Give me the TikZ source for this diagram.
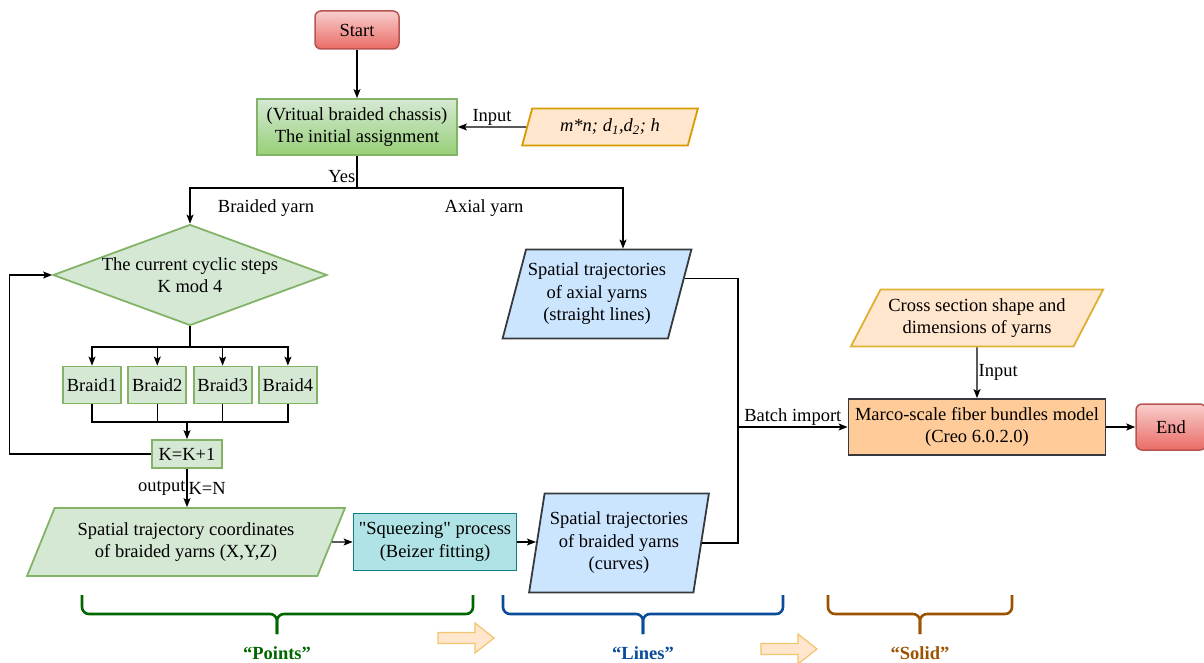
\documentclass[tikz,border=0pt]{standalone}
\usepackage{fontspec}
\setmainfont{Liberation Serif}[Ligatures=TeXOff]
\usetikzlibrary{shapes.geometric,arrows.meta,positioning,calc}
\definecolor{StartPink}{HTML}{F8CECC}
\definecolor{StartRed}{HTML}{EA6B66}
\definecolor{StartLine}{HTML}{B85450}
\definecolor{LeafGreen}{HTML}{D5E8D4}
\definecolor{LeafDeep}{HTML}{97D077}
\definecolor{LeafLine}{HTML}{82B366}
\definecolor{PeachFill}{HTML}{FFE6CC}
\definecolor{PeachLine}{HTML}{D79B00}
\definecolor{TealFill}{HTML}{B0E3E6}
\definecolor{TealLine}{HTML}{0E8088}
\definecolor{SkyFill}{HTML}{CCE5FF}
\definecolor{SlateLine}{HTML}{36393D}
\definecolor{ApricotFill}{HTML}{FFCC99}
\definecolor{PointsGreen}{HTML}{006600}
\definecolor{LinesBlue}{HTML}{0A4C9A}
\definecolor{SolidBrown}{HTML}{9C5300}
\definecolor{ArrowEdge}{HTML}{F2C46D}

\begin{document}
\begin{tikzpicture}[x=1pt,y=-1pt,node distance=5.5pt,
  font=\fontsize{18.5}{22.5}\selectfont,
  every node/.style={align=center},
  terminal/.style={draw=StartLine,top color=StartPink,bottom color=StartRed,rounded corners=6pt,line width=1.5pt,minimum width=84pt,minimum height=38pt},
  greenbox/.style={draw=LeafLine,fill=LeafGreen,line width=1.8pt,inner sep=2pt},
  iobox/.style={trapezium,trapezium stretches=true,inner xsep=0pt,inner ysep=-4pt,line width=1.8pt},
  flow/.style={-{Stealth[length=9pt,width=7pt,inset=2pt]},line width=1.2pt},
  wire/.style={line width=1.2pt},
  groupbrace/.style={line width=2.6pt,rounded corners=7pt},
  hint/.style={inner sep=1pt}]
  \useasboundingbox (0,0) rectangle (1204,663);

  % boxes
  \node[terminal] (start) at (357,30) {Start};
  \node[greenbox,top color=LeafGreen,bottom color=LeafDeep,minimum width=200pt,minimum height=56pt] (init) at (357,127) {(Vritual braided chassis)\\The initial assignment};
  \node[iobox,draw=PeachLine,fill=PeachFill,trapezium left angle=50,trapezium right angle=130,minimum width=176pt,minimum height=37pt] (dims) at (610,127) {\textit{m*n; d\textsubscript{1},d\textsubscript{2}; h}};
  \node[diamond,aspect=2.7,draw=LeafLine,fill=LeafGreen,line width=1.8pt,inner sep=-5pt,minimum width=274pt,minimum height=101pt] (cycle) at (190,275) {The current cyclic steps\\K mod 4};
  \node[greenbox,minimum width=58pt,minimum height=37pt] (braid1) at (92,385) {Braid1};
  \node[greenbox,minimum width=58pt,minimum height=37pt,right=of braid1] (braid2) {Braid2};
  \node[greenbox,minimum width=58pt,minimum height=37pt,right=of braid2] (braid3) {Braid3};
  \node[greenbox,minimum width=58pt,minimum height=37pt,right=of braid3] (braid4) {Braid4};
  \node[greenbox,minimum width=70pt,minimum height=28pt] (kstep) at (187,454) {K=K+1};
  \node[iobox,draw=LeafLine,fill=LeafGreen,trapezium left angle=54,trapezium right angle=126,minimum width=319pt,minimum height=68pt] (coords) at (186,542) {Spatial trajectory coordinates\\of braided yarns (X,Y,Z)};
  \node[draw=TealLine,fill=TealFill,line width=1.8pt,minimum width=163pt,minimum height=57pt] (squeeze) at (435,542) {"Squeezing" process\\(Beizer fitting)};
  \node[iobox,draw=SlateLine,fill=SkyFill,trapezium left angle=67,trapezium right angle=113,minimum width=189pt,minimum height=89pt] (axial) at (597,294) {Spatial trajectories\\of axial yarns\\(straight lines)};
  \node[iobox,draw=SlateLine,fill=SkyFill,trapezium left angle=75,trapezium right angle=105,minimum width=180pt,minimum height=99pt] (curves) at (619,543) {Spatial trajectories\\of braided yarns\\(curves)};
  \node[iobox,draw=PeachLine!80,fill=PeachFill,trapezium left angle=49,trapezium right angle=131,minimum width=253pt,minimum height=57pt] (section) at (977,318) {Cross section shape and\\dimensions of yarns};
  \node[draw=SlateLine,fill=ApricotFill,line width=1.8pt,minimum width=257pt,minimum height=56pt] (model) at (977,427) {Marco-scale fiber bundles model\\(Creo 6.0.2.0)};
  \node[terminal,minimum width=70pt,minimum height=46pt] (finish) at (1171,427) {End};

  % free labels
  \node[hint] (braidlabel) at (266,208) {Braided yarn};
  \node[hint] (axiallabel) at (484,208) {Axial yarn};

  % connectors
  \coordinate (fork) at (357,188);
  \coordinate (fan) at (190,347);
  \coordinate (merge) at (187,422);
  \coordinate (bus) at (738,427);
  \draw[flow] (start) -- (init);
  \draw[flow] (dims) -- node[above,hint]{Input} (init);
  \draw[wire] (init) -- node[left,hint,pos=0.65]{Yes} (fork);
  \draw[flow] (fork) -| (cycle.north);
  \draw[flow] (fork) -| ([xshift=26pt]axial.north);
  \draw[wire] (cycle) -- (fan);
  \foreach \i in {1,...,4} \draw[flow] (fan) -| (braid\i.north);
  \foreach \i in {1,...,4} \draw[wire] (braid\i.south) |- (merge);
  \draw[flow] (merge) -- (kstep);
  \draw[flow] (kstep.west) -- ++(-142,0) |- (cycle.west);
  \draw[flow] (kstep) -- node[left,hint]{output} node[right,hint]{K=N} (kstep.south |- coords.north);
  \draw[flow] (coords.east) -- (squeeze.west);
  \draw[flow] (squeeze.east) -- (curves.west |- squeeze.east);
  \draw[wire] (axial.10) -| (bus);
  \draw[wire] (curves.east) -| (bus);
  \draw[flow] (bus) -- node[above,hint]{Batch import} (model.west);
  \draw[flow] (section) -- node[right,hint]{Input} (model);
  \draw[flow] (model) -- (finish);

  % stage braces
  \foreach \l/\m/\r/\c/\t in {82/277/473/PointsGreen/Points, 503/643/783/LinesBlue/Lines, 828/920/1012/SolidBrown/Solid}{
    \draw[groupbrace,draw=\c] (\l,595) -- (\l,614) -- (\m,614) -- (\m,634);
    \draw[groupbrace,draw=\c] (\r,595) -- (\r,614) -- (\m,614) -- (\m,634);
    \node[text=\c,font=\fontsize{18.5}{22.5}\selectfont\bfseries] (stage\t) at (\m,653) {“\t”};
  }
  \foreach \x/\y in {438/638, 761/649}
    \draw[draw=ArrowEdge,fill=PeachFill,line width=1.2pt] (\x,\y-5.5) -- ++(37,0) -- ++(0,-9.5) -- (\x+56,\y) -- (\x+37,\y+15) -- ++(0,-9.5) -- (\x,\y+5.5) -- cycle;
\end{tikzpicture}
\end{document}
